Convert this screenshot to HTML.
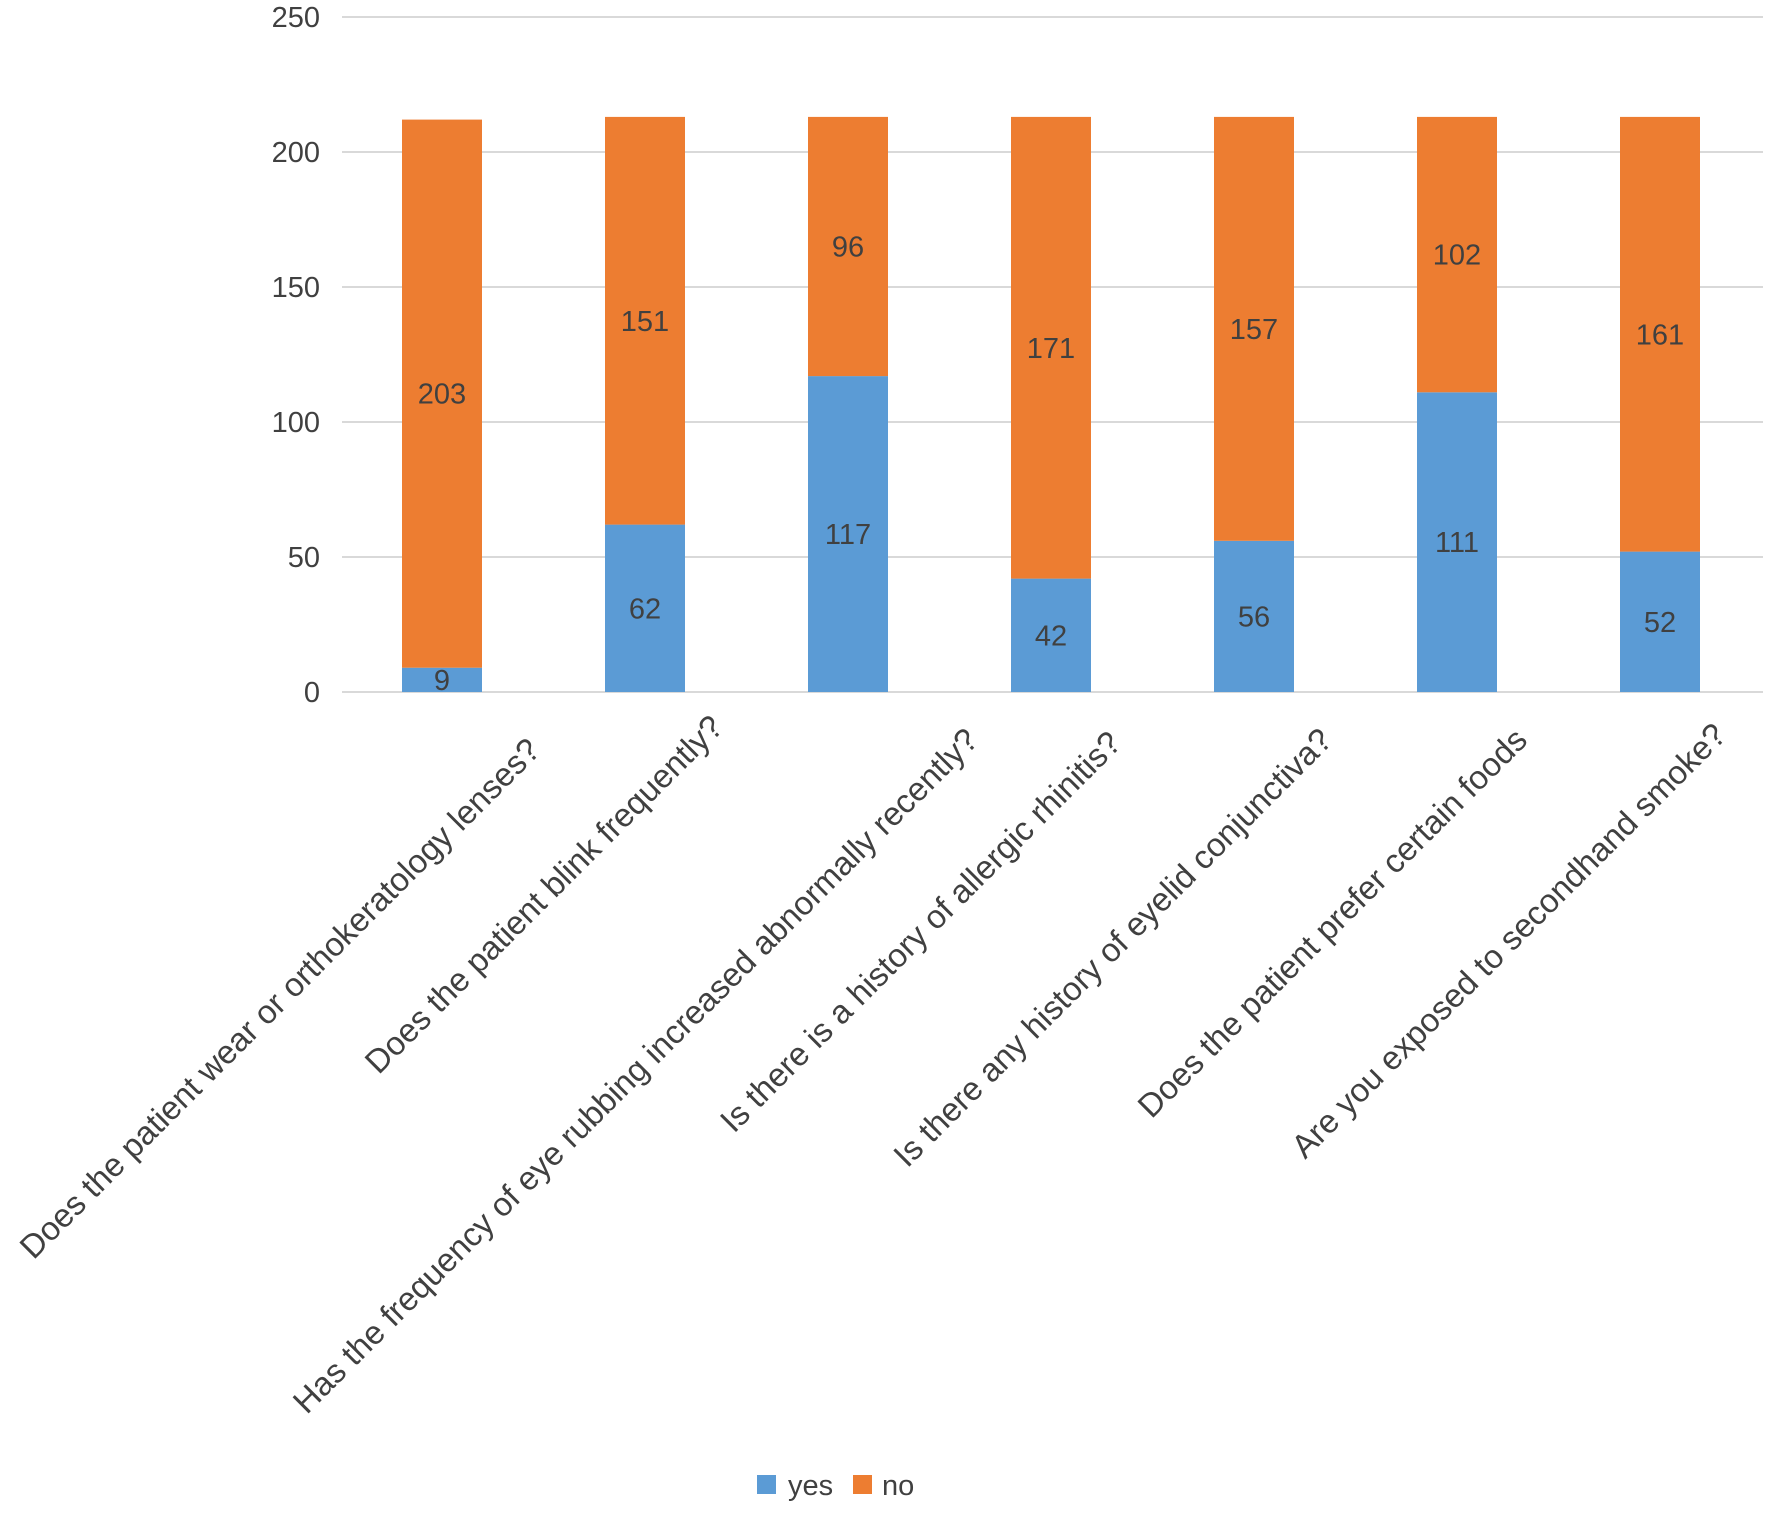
<!DOCTYPE html>
<html><head><meta charset="utf-8"><style>
html,body{margin:0;padding:0;background:#fff;}
svg{display:block;font-family:"Liberation Sans",sans-serif;}
</style></head><body>
<svg id="chart" width="1772" height="1522" viewBox="0 0 1772 1522" xmlns="http://www.w3.org/2000/svg">
<g id="grid"></g><g id="bars"></g><g id="labels"></g><g id="xlabels"></g>
<g>
 <rect x="757" y="1475" width="19" height="19" fill="#5b9bd5"/>
 <text x="788" y="1495" font-size="29" fill="#404040">yes</text>
 <rect x="853" y="1475" width="19" height="19" fill="#ed7d31"/>
 <text x="882" y="1495" font-size="29" fill="#404040">no</text>
</g>
</svg>
<script>
const categories = ["Does the patient wear or orthokeratology lenses?","Does the patient blink frequently?","Has the frequency of eye rubbing increased abnormally recently?","Is there is a history of allergic rhinitis?","Is there any history of eyelid conjunctiva?","Does the patient prefer certain foods","Are you exposed to secondhand smoke?"];
const yesValues = [9,62,117,42,56,111,52];
const noValues = [203,151,96,171,157,102,161];
const yTicks = [0,50,100,150,200,250];
const labelOffX = [100,80,132,72,80,72,68];
const labelY = [752,729,742,745,742,742,737];

const NS="http://www.w3.org/2000/svg";
const y0=692, y1=17, yMax=250, xL=342, xR=1763;
const yS=v=>y0-(v/yMax)*(y0-y1);
const xC=i=>442+i*203;
const bw=80;
function mk(tag,attrs,parent,txt){const e=document.createElementNS(NS,tag);for(const k in attrs)e.setAttribute(k,attrs[k]);if(txt!==undefined)e.textContent=txt;parent.appendChild(e);return e;}
const grid=document.getElementById('grid'),bars=document.getElementById('bars'),labs=document.getElementById('labels'),xl=document.getElementById('xlabels');
yTicks.forEach(t=>{
 const l=mk('line',{x1:xL,x2:xR,y1:yS(t),y2:yS(t),stroke:'#d9d9d9','stroke-width':2},grid);
 
 
 const tx=mk('text',{x:320,y:yS(t)+10,'text-anchor':'end','font-size':29,fill:'#404040'},grid,String(t));
 
 
});
categories.forEach((c,i)=>{
 const x=xC(i)-bw/2;
 const yb=yS(yesValues[i]), yt=yS(yesValues[i]+noValues[i]);
 const r1=mk('rect',{x:x,y:yb,width:bw,height:y0-yb,fill:'#5b9bd5'},bars);
 
 
 const r2=mk('rect',{x:x,y:yt,width:bw,height:yb-yt,fill:'#ed7d31'},bars);
 
 
 const t1=mk('text',{x:xC(i),y:(yb+y0)/2+10,'text-anchor':'middle','font-size':29,fill:'#404040'},labs,String(yesValues[i]));
 
 
 const t2=mk('text',{x:xC(i),y:(yt+yb)/2+10,'text-anchor':'middle','font-size':29,fill:'#404040'},labs,String(noValues[i]));
 
 
 const ax=xC(i)+labelOffX[i], ay=labelY[i];
 const ct=mk('text',{x:ax,y:ay,'text-anchor':'end','font-size':33,fill:'#404040',transform:`rotate(-45 ${ax} ${ay})`},xl,c);
 
 
});
</script>
</body></html>
